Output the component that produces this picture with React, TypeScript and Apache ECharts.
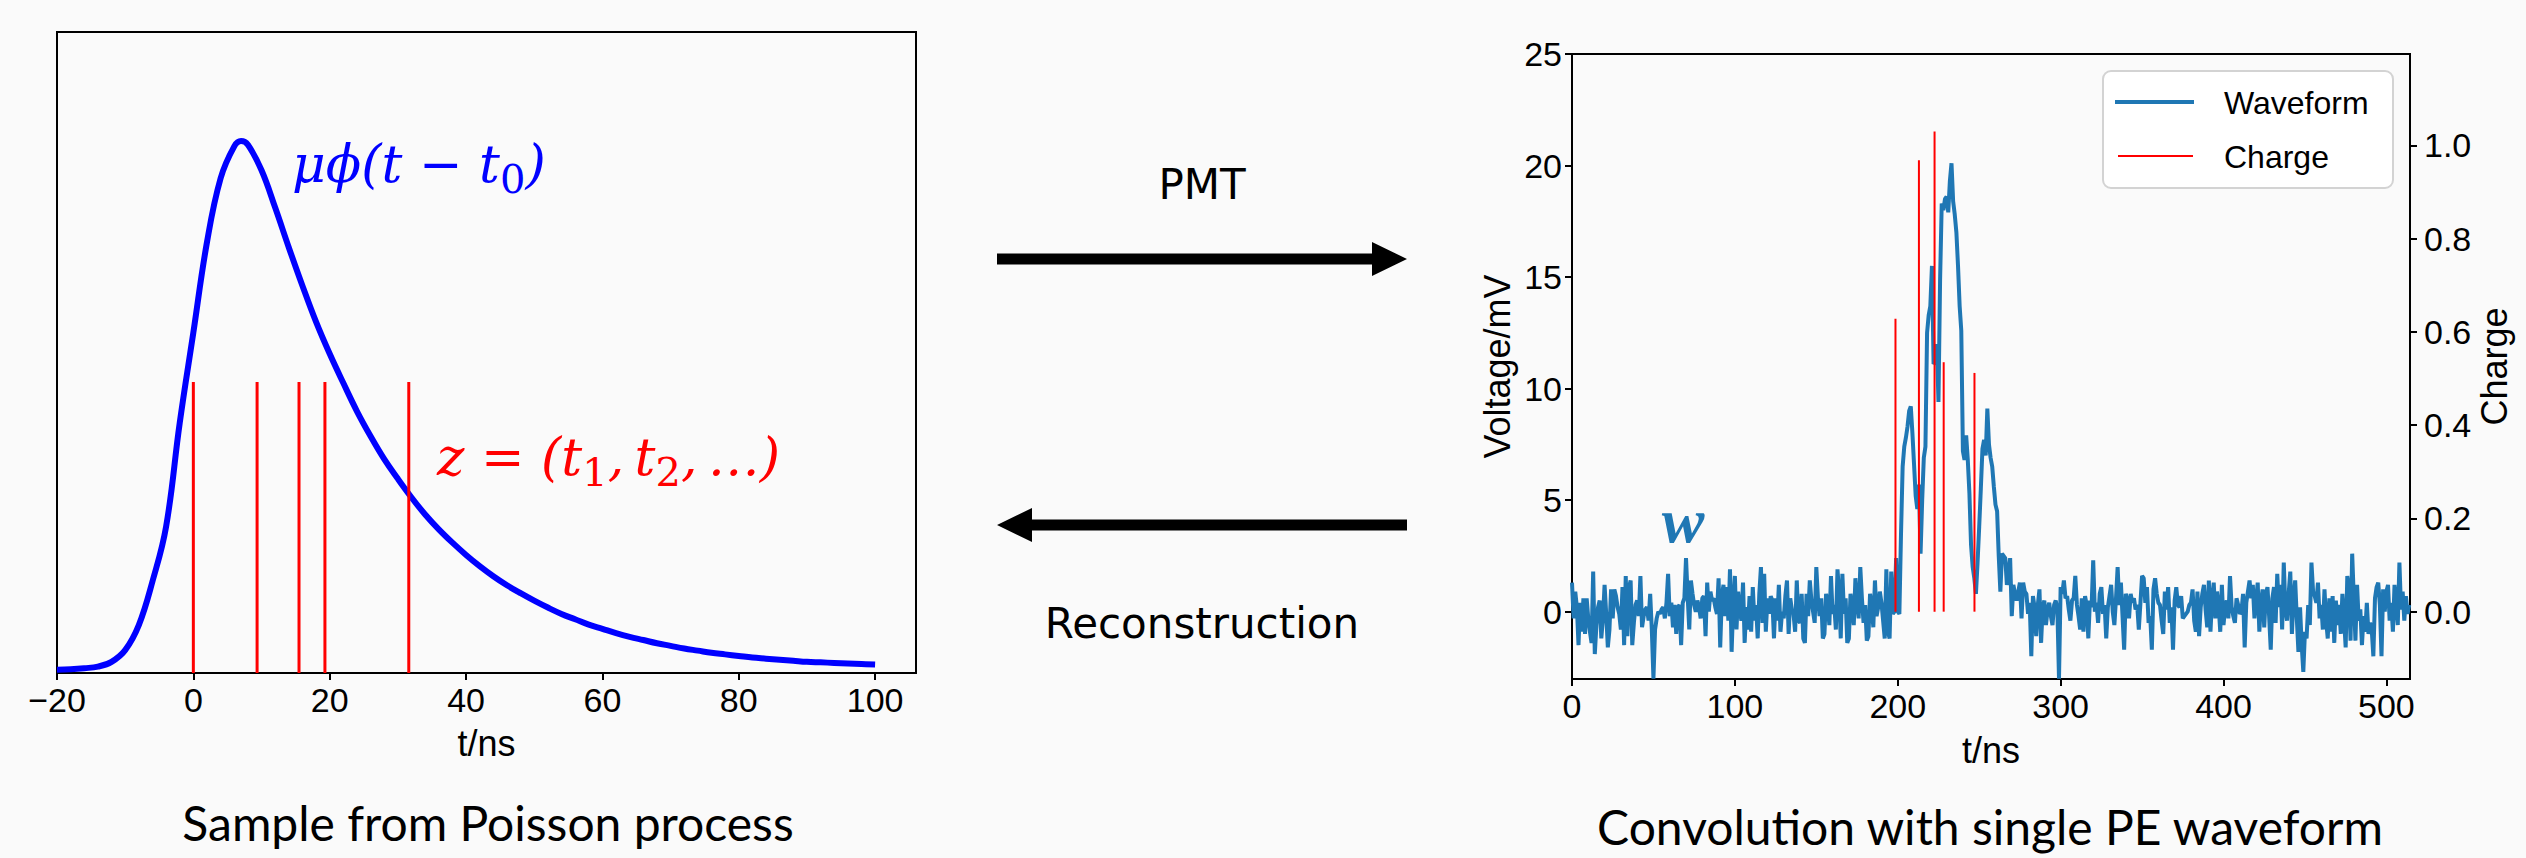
import React, { useEffect, useRef } from "react";
import * as echarts from "echarts";

// ---------- Left panel: pulse shape and Poisson samples ----------
const pulseT = [
  -20, -18, -16, -14, -12, -10, -8, -6, -4, -2,
  0, 2, 4, 6, 7, 8, 10, 12, 14, 16, 18,
  20, 22, 24, 26, 28, 30, 32, 34, 36, 38,
  40, 42, 44, 46, 48, 50, 52, 54, 56, 58,
  60, 62, 64, 66, 68, 70, 72, 74, 76, 78,
  80, 82, 84, 86, 88, 90, 92, 94, 96, 98, 100,
];
const pulseV = [
  0.006, 0.007, 0.009, 0.012, 0.021, 0.043, 0.09, 0.172, 0.275, 0.47,
  0.64, 0.81, 0.93, 0.99, 1.0, 0.993, 0.945, 0.875, 0.8, 0.728, 0.66,
  0.6, 0.545, 0.492, 0.445, 0.402, 0.365, 0.33, 0.298, 0.27, 0.245,
  0.222, 0.201, 0.182, 0.165, 0.15, 0.136, 0.123, 0.111, 0.101, 0.091,
  0.083, 0.075, 0.068, 0.062, 0.056, 0.051, 0.046, 0.042, 0.038, 0.035,
  0.032, 0.029, 0.027, 0.025, 0.023, 0.021, 0.02, 0.019, 0.018, 0.017, 0.016,
];
const sampleTimes = [0, 9.35, 15.5, 19.3, 31.6];
const sampleMarkHeight = 0.547;
const pulseTicks = [-20, 0, 20, 40, 60, 80, 100];

// ---------- Right panel: waveform (1 ns per sample) and charges ----------
const waveform = [
  1.3, -0.3, 0.9, 0.2, -1.5, 0.4, -0.9, 0.6, -1.0, 0.6,
  -0.3, -0.9, -1.4, 1.8, -1.9, -0.6, 0.2, 0.5, -1.2, -0.3,
  1.2, -0.1, -1.6, -0.8, 1.0, -0.3, 1.0, 0.7, 0.2, -0.1,
  -0.8, 1.1, -1.5, 1.6, -1.1, 1.1, 1.4, -1.5, -0.5, 0.3,
  0.5, -0.2, 1.6, -0.7, -0.2, 0.1, 0.2, -0.4, 0.8, -0.8,
  -3.0, -0.8, -0.3, 0.0, -0.1, 0.1, 0.2, -0.3, 0.4, 1.7,
  -0.2, 0.4, -0.7, 0.3, -1.0, 0.2, 0.3, -1.5, 0.4, 0.6,
  2.4, 0.7, -0.8, 1.4, 0.8, 0.3, 0.0, 0.5, 0.2, -0.3,
  0.6, 0.7, -1.1, 1.3, 0.0, 0.9, 0.5, 0.6, 0.2, -0.1,
  1.5, -1.6, 0.7, 1.2, -0.2, 1.1, -0.4, 1.9, -1.8, 0.4,
  1.6, -0.8, 0.9, 0.1, -0.4, 1.3, -1.4, 0.2, -0.8, 0.7,
  -0.9, 1.1, -0.4, 0.3, -1.2, 0.8, 2.0, -0.5, 1.7, -0.9,
  0.6, -0.1, 0.7, 0.5, -1.2, 0.6, -0.4, 1.2, -0.9, 0.0,
  -0.3, 0.7, 1.4, -1.0, 0.6, 0.1, -0.1, -0.9, 1.4, -0.4,
  -0.5, 0.8, -1.2, -1.4, 0.8, -0.2, 1.4, 0.5, 0.0, -0.5,
  2.0, 0.6, -0.2, 0.6, -1.2, -1.0, 0.8, 0.4, -0.6, 1.6,
  -0.1, 0.3, -0.8, 1.9, 0.8, -1.2, 1.7, -0.1, 0.6, -1.4,
  -1.2, 0.8, 0.2, -0.6, 1.5, 0.4, -0.3, 2.0, 0.6, -0.5,
  0.3, -1.3, -1.1, 0.8, 0.3, -0.7, 1.4, -0.2, 0.2, 0.9,
  0.4, -0.4, -1.2, 1.9, -0.9, -1.2, 1.8, -0.1, 0.0, 2.4,
  0.0, -0.1, 3.5, 6.5, 7.4, 7.8, 8.3, 9.0, 9.2, 8.0,
  6.6, 5.2, 4.6, 5.7, 2.6, 5.0, 6.9, 7.4, 12.5, 13.3,
  13.7, 15.5, 11.1, 11.2, 12.0, 9.4, 14.9, 18.3, 18.0, 18.5,
  18.6, 17.9, 19.3, 20.1, 18.4, 17.8, 17.0, 15.5, 13.7, 12.6,
  7.2, 6.8, 7.9, 6.8, 5.3, 3.0, 2.0, 1.5, 0.8, 2.2,
  3.8, 5.5, 7.3, 7.7, 7.0, 9.1, 7.5, 6.9, 6.5, 5.6,
  4.8, 4.5, 2.5, 0.9, 2.6, 2.5, 2.4, 1.2, 1.8, 2.4,
  -0.2, 1.2, 0.8, 0.5, 0.9, 1.3, -0.3, 1.3, 0.9, 0.8,
  -0.1, 0.4, -2.0, 0.7, 0.2, -1.1, 0.3, 1.0, -1.4, 0.2,
  0.5, -0.6, 0.1, 0.4, -0.2, -0.6, 0.3, 0.5, 0.1, -3.0,
  1.1, 0.8, 1.4, 0.6, 0.7, 0.1, -0.4, 0.5, 0.6, 1.6,
  0.3, -0.2, -0.8, 0.6, -0.9, 0.7, 0.3, -1.2, 0.5, 0.2,
  2.3, 0.0, 0.4, -0.5, 0.8, 1.1, -0.1, 0.3, -1.2, 0.2,
  0.7, 1.2, 0.0, -0.6, 0.6, 2.0, 0.3, 1.3, -0.2, -1.7,
  0.8, 0.5, -0.3, 0.8, 0.4, 0.6, 0.1, 0.3, -0.8, 0.4,
  1.6, 1.5, 0.4, 1.1, -0.5, -0.2, -1.7, 1.0, 1.5, 0.8,
  0.4, 0.3, -0.4, -1.0, 0.9, 0.1, 1.1, -0.5, 0.2, -1.7,
  0.5, 1.1, 0.3, 0.2, 0.7, -0.3, -0.2, -0.1, 0.0, 0.3,
  0.4, 1.0, -0.4, -0.9, 0.9, -1.1, 0.2, 0.8, 1.2, 0.1,
  -0.7, 1.4, -0.9, 0.6, 1.3, -0.3, 0.9, 0.3, -0.9, 1.2,
  -0.6, 0.2, 0.5, -0.3, 1.6, 0.2, -0.2, -0.5, 0.6, 0.3,
  -0.1, 0.0, 0.8, -1.6, 0.4, 0.9, 1.4, 0.6, 1.2, -0.3,
  0.5, 1.3, -0.9, 0.4, 1.0, -0.7, 0.8, 1.1, -0.2, -1.7,
  0.6, 1.1, -0.5, 1.7, 0.2, 1.2, -0.8, 2.2, 0.1, -0.4,
  0.8, 1.8, -1.0, 0.6, 1.4, -0.3, -1.8, 0.2, -1.5, -2.7,
  -0.9, -1.2, 0.3, -0.6, 2.2, 0.9, 0.7, 0.4, 1.3, -0.3,
  0.3, -0.8, 1.0, -0.4, -1.2, 0.6, -0.9, 0.7, -1.4, 0.5,
  -0.6, 0.3, -1.0, 0.8, -0.3, -1.6, 1.6, 1.1, -1.3, 2.6,
  0.6, -1.3, 1.2, -0.4, 0.1, -1.5, -0.2, -0.9, 0.4, -1.0,
  -0.5, -0.8, -2.0, 0.6, 1.1, 1.3, 0.3, -2.0, 1.0, 0.0,
  0.9, 1.2, -0.4, 0.4, -0.9, 1.2, 0.3, -0.6, 2.2, 0.1,
  0.9, -0.4, 0.7, -0.1, 0.3,
];
const chargeTimes = [198.6, 213.0, 222.6, 228.2, 247.1];
const chargeValues = [0.628, 0.968, 1.03, 0.535, 0.512];
const timeTicks = [0, 100, 200, 300, 400, 500];
const voltageTicks = [0, 5, 10, 15, 20, 25];
const chargeTicks = [0, 0.2, 0.4, 0.6, 0.8, 1.0];

const AX = "#000";
const SANS = "Liberation Sans";
const tickLabel = { fontFamily: SANS, fontSize: 34, color: "#000" };
const axisName = { fontFamily: SANS, fontSize: 36, color: "#000" };

function vlineRenderer(color: string, width: number) {
  return (params: any, api: any) => {
    const x = api.value(0);
    const h = api.value(1);
    const p0 = api.coord([x, 0]);
    const p1 = api.coord([x, h]);
    return {
      type: "line",
      shape: { x1: p0[0], y1: p0[1], x2: p1[0], y2: p1[1] },
      style: { stroke: color, lineWidth: width },
    };
  };
}

function arrowPoints(x0: number, x1: number, yc: number, headLen: number, headHalf: number, shaftHalf: number) {
  const dir = x1 > x0 ? 1 : -1;
  const hb = x1 - dir * headLen;
  return [
    [x0, yc - shaftHalf],
    [hb, yc - shaftHalf],
    [hb, yc - headHalf],
    [x1, yc],
    [hb, yc + headHalf],
    [hb, yc + shaftHalf],
    [x0, yc + shaftHalf],
  ];
}

export default function App() {
  const ref = useRef<HTMLDivElement>(null);
  useEffect(() => {
    if (!ref.current) return;
    const chart = echarts.init(ref.current, null, { renderer: "svg" });
    const axisLine = { show: true, onZero: false, lineStyle: { color: AX, width: 2 } };
    const tick = (vals: number[]) => ({ show: true, length: 7, lineStyle: { color: AX, width: 2 }, customValues: vals });

    const option: any = {
      animation: false,
      backgroundColor: "#fafafa",
      grid: [
        { left: 57, top: 32, width: 859, height: 641, show: true, borderColor: AX, borderWidth: 2, backgroundColor: "transparent" },
        { left: 1572, top: 54, width: 838, height: 625, show: true, borderColor: AX, borderWidth: 2, backgroundColor: "transparent" },
      ],
      xAxis: [
        {
          type: "value", gridIndex: 0, min: -20, max: 106,
          axisLine, axisTick: tick(pulseTicks), splitLine: { show: false },
          axisLabel: {
            ...tickLabel, margin: 10, customValues: pulseTicks,
            formatter: (v: number) => (v < 0 ? "\u2212" + Math.abs(v) : String(v)),
          },
          name: "t/ns", nameLocation: "middle", nameGap: 52, nameTextStyle: axisName,
        },
        {
          type: "value", gridIndex: 1, min: 0, max: 514.5,
          axisLine, axisTick: tick(timeTicks), splitLine: { show: false },
          axisLabel: { ...tickLabel, margin: 10, customValues: timeTicks },
          name: "t/ns", nameLocation: "middle", nameGap: 53, nameTextStyle: axisName,
        },
      ],
      yAxis: [
        {
          type: "value", gridIndex: 0, min: 0, max: 1.205,
          axisLine, axisTick: { show: false }, axisLabel: { show: false }, splitLine: { show: false },
        },
        {
          type: "value", gridIndex: 1, min: -3.018, max: 25, position: "left",
          axisLine, axisTick: tick(voltageTicks), splitLine: { show: false },
          axisLabel: { ...tickLabel, margin: 10, customValues: voltageTicks },
          name: "Voltage/mV", nameLocation: "middle", nameGap: 57, nameRotate: 90, nameTextStyle: axisName,
        },
        {
          type: "value", gridIndex: 1, min: -0.1444, max: 1.196, position: "right",
          axisLine, axisTick: tick(chargeTicks), splitLine: { show: false },
          axisLabel: { ...tickLabel, margin: 14, customValues: chargeTicks, formatter: (v: number) => v.toFixed(1) },
          name: "Charge", nameLocation: "middle", nameGap: 66, nameRotate: 90, nameTextStyle: axisName,
        },
      ],
      series: [
        {
          type: "line", name: "pulse", xAxisIndex: 0, yAxisIndex: 0,
          data: pulseT.map((t, i) => [t, pulseV[i]]),
          smooth: 0.4, showSymbol: false, clip: false,
          lineStyle: { color: "#0000ff", width: 6 }, z: 3,
        },
        {
          type: "custom", name: "samples", xAxisIndex: 0, yAxisIndex: 0,
          data: sampleTimes.map((t) => [t, sampleMarkHeight]),
          encode: { x: 0, y: 1 }, renderItem: vlineRenderer("#ff0000", 3), z: 4,
        },
        {
          type: "line", name: "Waveform", xAxisIndex: 1, yAxisIndex: 1,
          data: waveform.map((v, i) => [i, v]),
          showSymbol: false,
          lineStyle: { color: "#1f77b4", width: 4 }, z: 3,
        },
        {
          type: "custom", name: "Charge", xAxisIndex: 1, yAxisIndex: 2,
          data: chargeTimes.map((t, i) => [t, chargeValues[i]]),
          encode: { x: 0, y: 1 }, renderItem: vlineRenderer("#ff0000", 2), z: 4,
        },
      ],
      graphic: [
        // formula labels
        {
          type: "text", x: 292, y: 129, z: 10,
          style: {
            text: "{a|\u03bc\u03d5(t \u2212 t}{s|0}{a|)}",
            align: "left", verticalAlign: "top",
            rich: {
              a: { fontFamily: "DejaVu Serif", fontStyle: "italic", fontSize: 52, lineHeight: 70, fill: "#0000ff" },
              s: { fontFamily: "DejaVu Serif", fontSize: 40, lineHeight: 40, verticalAlign: "bottom", fill: "#0000ff" },
            },
          },
        },
        {
          type: "text", x: 437, y: 422, z: 10,
          style: {
            text: "{a|z = (t}{s|1}{a|,\u2009t}{s|2}{a|,\u2009\u2026)}",
            align: "left", verticalAlign: "top",
            rich: {
              a: { fontFamily: "DejaVu Serif", fontStyle: "italic", fontSize: 52, lineHeight: 70, fill: "#ff0000" },
              s: { fontFamily: "DejaVu Serif", fontSize: 40, lineHeight: 40, verticalAlign: "bottom", fill: "#ff0000" },
            },
          },
        },
        {
          type: "text", x: 1683, y: 520, z: 10,
          style: {
            text: "w", align: "center", verticalAlign: "middle",
            font: "italic bold 64px 'Liberation Serif'", fill: "#1f77b4",
          },
        },
        // panel captions
        {
          type: "text", x: 488, y: 822, z: 10,
          style: { text: "Sample from Poisson process", align: "center", verticalAlign: "middle", font: "48px Lato", fill: "#000" },
        },
        {
          type: "text", x: 1990, y: 826, z: 10,
          style: { text: "Convolution with single PE waveform", align: "center", verticalAlign: "middle", font: "48px Lato", fill: "#000" },
        },
        // arrows
        {
          type: "text", x: 1202, y: 184, z: 10,
          style: { text: "PMT", align: "center", verticalAlign: "middle", font: "42px 'DejaVu Sans'", fill: "#000" },
        },
        {
          type: "text", x: 1202, y: 623, z: 10,
          style: { text: "Reconstruction", align: "center", verticalAlign: "middle", font: "42px 'DejaVu Sans'", fill: "#000" },
        },
        {
          type: "polygon", z: 10,
          shape: { points: arrowPoints(997, 1407, 259, 35, 17, 5.5) },
          style: { fill: "#000" },
        },
        {
          type: "polygon", z: 10,
          shape: { points: arrowPoints(1407, 997, 525, 35, 17, 5.5) },
          style: { fill: "#000" },
        },
        // legend
        {
          type: "group", z: 20,
          children: [
            {
              type: "rect", shape: { x: 2103, y: 71, width: 290, height: 117, r: 8 },
              style: { fill: "#ffffff", stroke: "#d3d3d3", lineWidth: 2 }, z: 20,
            },
            {
              type: "line", shape: { x1: 2115, y1: 102, x2: 2194, y2: 102 },
              style: { stroke: "#1f77b4", lineWidth: 4 }, z: 21,
            },
            {
              type: "line", shape: { x1: 2118, y1: 156, x2: 2193, y2: 156 },
              style: { stroke: "#ff0000", lineWidth: 2 }, z: 21,
            },
            {
              type: "text", x: 2224, y: 103, z: 21,
              style: { text: "Waveform", align: "left", verticalAlign: "middle", font: "32px 'Liberation Sans'", fill: "#000" },
            },
            {
              type: "text", x: 2224, y: 157, z: 21,
              style: { text: "Charge", align: "left", verticalAlign: "middle", font: "32px 'Liberation Sans'", fill: "#000" },
            },
          ],
        },
      ],
    };
    chart.setOption(option);
    return () => chart.dispose();
  }, []);
  return <div ref={ref} style={{ position: "absolute", left: 0, top: 0, width: 2526, height: 858 }} />;
}
